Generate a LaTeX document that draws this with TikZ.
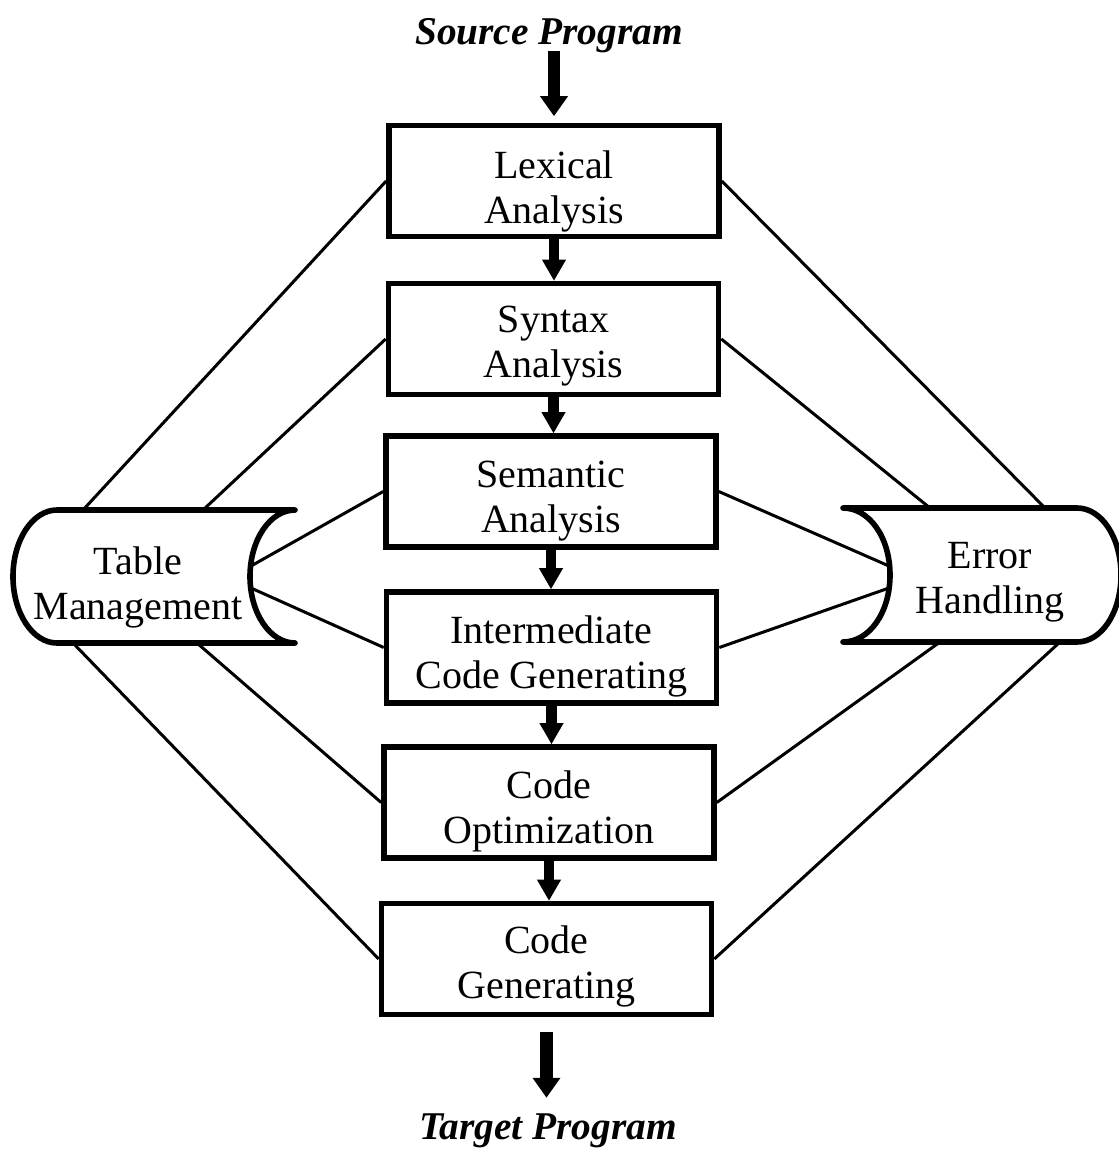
\documentclass[tikz,border=0pt]{standalone}
\usepackage{fontspec}
\setmainfont{Liberation Serif}
\usetikzlibrary{arrows.meta}

\tikzset{every picture/.style={line width=0.75pt}}
\tikzset{
  stage/.style={draw, line width=4.2pt, minimum width=247.5pt, minimum height=83pt, inner sep=0pt},
  stagetxt/.style={font=\fontsize{30}{33.75}\selectfont, align=center, inner sep=0.75pt},
  heading/.style={font=\fontsize{29.5}{33.75}\selectfont\bfseries\itshape, inner sep=0.75pt},
  store/.style={line width=4.2pt, line join=round},
  link/.style={line width=2.25pt},
  flow/.style={line width=8pt, -{Triangle[length=16pt,width=17pt]}},
  bigflow/.style={line width=9.5pt, -{Triangle[length=15pt,width=20pt]}},
}

\begin{document}
\begin{tikzpicture}[x=0.75pt,y=0.75pt,yscale=-1,xscale=1]
\useasboundingbox (0,0) rectangle (1118,1150);

%Shape: Rectangle [lex]
\node[stage] (lex) at (554,181) {};
%Shape: Rectangle [syn]
\node[stage] (syn) at (553.5,339) {};
%Shape: Rectangle [sem]
\node[stage] (sem) at (551,491.5) {};
%Shape: Rectangle [inter]
\node[stage] (inter) at (551.5,647.5) {};
%Shape: Rectangle [opt]
\node[stage] (opt) at (549,802.5) {};
%Shape: Rectangle [gen]
\node[stage] (gen) at (546.5,959) {};

%Shape: Stored Data [table]
\draw[store] (57,510) -- (295,510) .. controls (270.1,510) and (250,539.8) .. (250,576.5) .. controls (250,613.2) and (270.1,643) .. (295,643) -- (57,643) .. controls (32.7,643) and (13,613.2) .. (13,576.5) .. controls (13,539.8) and (32.7,510) .. (57,510) -- cycle ;
%Shape: Stored Data [error]
\draw[store] (843,508) -- (1077,508) .. controls (1101.3,508) and (1121,537) .. (1121,575) .. controls (1121,613) and (1101.3,642) .. (1077,642) -- (843,642) .. controls (869,642) and (890,613) .. (890,575) .. controls (890,537) and (869,508) .. (843,508) -- cycle ;

\coordinate (tm-a) at (83,510);
\coordinate (tm-b) at (203,510);
\coordinate (tm-c) at (251,566);
\coordinate (tm-d) at (251,588);
\coordinate (tm-e) at (197,643);
\coordinate (tm-f) at (73,643);
\coordinate (eh-a) at (1045,508);
\coordinate (eh-b) at (930,508);
\coordinate (eh-c) at (889,566);
\coordinate (eh-d) at (889,588);
\coordinate (eh-e) at (940,642);
\coordinate (eh-f) at (1060,642);

% Text Node
\node[heading] (src) at (549,36) {Source Program};
% Text Node
\node[heading] (tgt) at (548,1131) {Target Program};
% Text Node
\node[stagetxt] (lexT) at (554,191) {Lexical\\Analysis};
% Text Node
\node[stagetxt] (synT) at (553.5,346) {Syntax\\Analysis};
% Text Node
\node[stagetxt] (semT) at (551,501) {Semantic\\Analysis};
% Text Node
\node[stagetxt] (interT) at (551.5,656) {Intermediate\\Code Generating};
% Text Node
\node[stagetxt] (optT) at (549,811) {Code\\Optimization};
% Text Node
\node[stagetxt] (genT) at (546.5,966) {Code\\Generating};
% Text Node
\node[stagetxt] (tmT) at (138,587) {Table\\Management};
% Text Node
\node[stagetxt] (ehT) at (990,582) {Error\\Handling};

%Straight Lines
\draw[link] (lex.west) -- (tm-a) ;
\draw[link] (syn.west) -- (tm-b) ;
\draw[link] (sem.west) -- (tm-c) ;
\draw[link] (inter.west) -- (tm-d) ;
\draw[link] (opt.west) -- (tm-e) ;
\draw[link] (gen.west) -- (tm-f) ;
\draw[link] (lex.east) -- (eh-a) ;
\draw[link] (syn.east) -- (eh-b) ;
\draw[link] (sem.east) -- (eh-c) ;
\draw[link] (inter.east) -- (eh-d) ;
\draw[link] (opt.east) -- (eh-e) ;
\draw[link] (gen.east) -- (eh-f) ;

%Arrows
\draw[bigflow, shorten <=-3pt, shorten >=5pt] (lex.north |- src.south) -- (lex.north) ;
\draw[flow] (lex.south) -- (lex.south |- syn.north) ;
\draw[flow] (syn.south) -- (syn.south |- sem.north) ;
\draw[flow] (sem.south) -- (sem.south |- inter.north) ;
\draw[flow] (inter.south) -- (inter.south |- opt.north) ;
\draw[flow] (opt.south) -- (opt.south |- gen.north) ;
\draw[bigflow, shorten <=11pt, shorten >=11pt] (gen.south) -- (gen.south |- tgt.north) ;

\end{tikzpicture}
\end{document}
